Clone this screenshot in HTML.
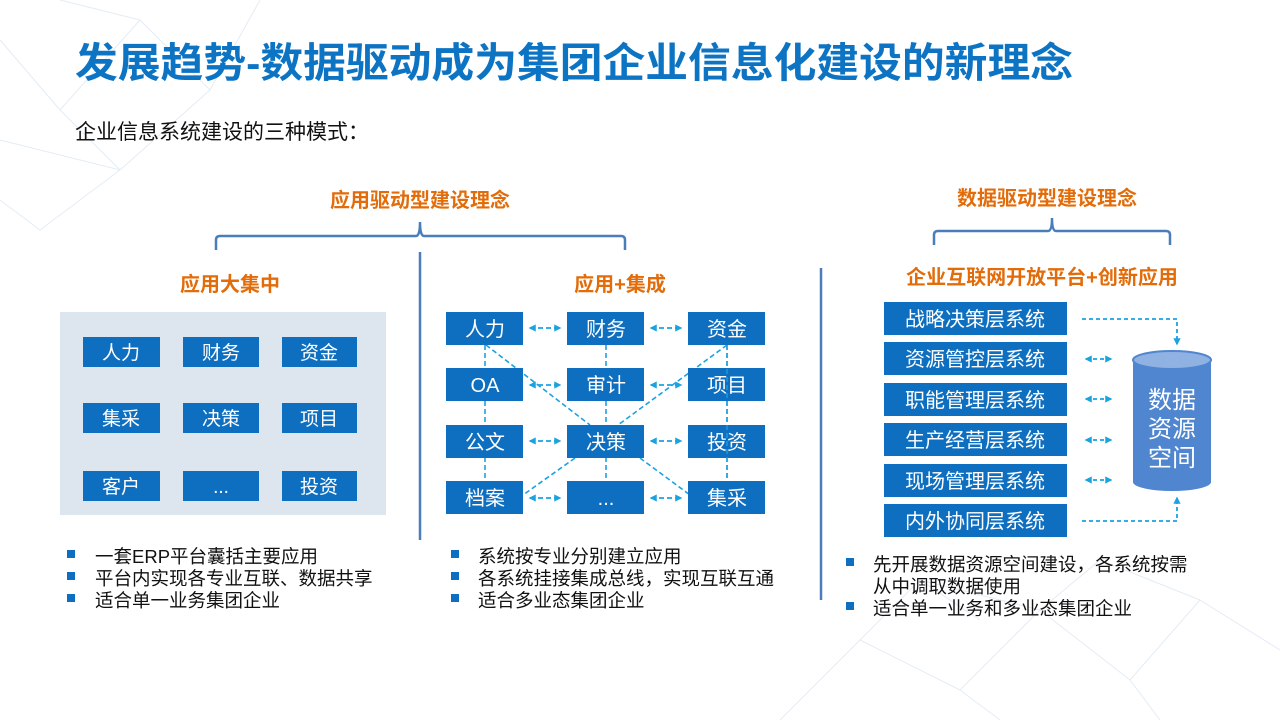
<!DOCTYPE html>
<html><head><meta charset="utf-8"><style>
html,body{margin:0;padding:0;background:#fff;}
svg{display:block;font-family:"Liberation Sans","Noto Sans CJK SC",sans-serif;}
</style></head><body>
<svg width="1280" height="720" viewBox="0 0 1280 720" xmlns="http://www.w3.org/2000/svg">
<defs>
<marker id="ah" viewBox="0 0 10 10" refX="8" refY="5" markerWidth="4" markerHeight="4" orient="auto-start-reverse"><path d="M0,0L10,5L0,10z" fill="#1aa3e0"/></marker>
</defs>
<g stroke="#e3ecf5" stroke-width="1" fill="none">
<path d="M0,40L60,110L140,20L210,90L120,170L0,140M60,110L120,170L40,230L0,200M140,20L60,0M210,90L260,0"/>
<path d="M780,720L860,640L960,690L1040,610L1130,680L1200,600L1280,650M860,640L920,580L1040,610L1100,560L1200,600M960,690L1000,720M1130,680L1160,720M920,580L980,620"/>
</g>
<text x="75" y="77" font-size="41" font-weight="bold" fill="#0d74c4" textLength="998" lengthAdjust="spacingAndGlyphs">发展趋势-数据驱动成为集团企业信息化建设的新理念</text>
<text x="75" y="139" font-size="21" fill="#111">企业信息系统建设的三种模式：</text>

<g font-weight="bold" fill="#e36c0a" font-size="20" text-anchor="middle">
<text x="420" y="207">应用驱动型建设理念</text>
<text x="1047" y="205">数据驱动型建设理念</text>
<text x="230" y="291">应用大集中</text>
<text x="620" y="291">应用+集成</text>
<text x="1042" y="284">企业互联网开放平台+创新应用</text>
</g>
<g stroke="#4a7ebb" stroke-width="2.5" fill="none">
<path d="M216,250V240Q216,236 220,236H416Q420,236 420,222Q420,236 424,236H621Q625,236 625,240V250"/>
<path d="M934,245V235Q934,231 938,231H1048Q1052,231 1052,218Q1052,231 1056,231H1166Q1170,231 1170,235V245"/>
<path d="M420,252V540M821,268V600"/>
</g>

<rect x="60" y="312" width="326" height="203" fill="#dde5ef"/>
<g fill="#0e6fc0">
<rect x="83" y="337" width="77" height="30"/><rect x="183" y="337" width="76" height="30"/><rect x="282" y="337" width="75" height="30"/>
<rect x="83" y="403" width="77" height="30"/><rect x="183" y="403" width="76" height="30"/><rect x="282" y="403" width="75" height="30"/>
<rect x="83" y="471" width="77" height="30"/><rect x="183" y="471" width="76" height="30"/><rect x="282" y="471" width="75" height="30"/>
</g>
<g fill="#fff" font-size="19" text-anchor="middle">
<text x="121" y="359">人力</text><text x="221" y="359">财务</text><text x="319" y="359">资金</text>
<text x="121" y="425">集采</text><text x="221" y="425">决策</text><text x="319" y="425">项目</text>
<text x="121" y="493">客户</text><text x="221" y="493">...</text><text x="319" y="493">投资</text>
</g>

<g stroke="#1aa3e0" stroke-width="1.6" stroke-dasharray="5,3" fill="none">
<line x1="485" y1="345" x2="485" y2="481"/>
<line x1="606" y1="345" x2="606" y2="481"/>
<line x1="727" y1="345" x2="727" y2="481"/>
<line x1="486" y1="345" x2="590" y2="425"/>
<line x1="727" y1="345" x2="618" y2="425"/>
<line x1="575" y1="458" x2="523" y2="495"/>
<line x1="640" y1="458" x2="690" y2="495"/>
</g>
<g stroke="#1aa3e0" stroke-width="1.8" stroke-dasharray="5,3" fill="none" marker-start="url(#ah)" marker-end="url(#ah)">
<line x1="530" y1="328" x2="560" y2="328"/><line x1="651" y1="328" x2="681" y2="328"/>
<line x1="530" y1="385" x2="560" y2="385"/><line x1="651" y1="385" x2="681" y2="385"/>
<line x1="530" y1="441" x2="560" y2="441"/><line x1="651" y1="441" x2="681" y2="441"/>
<line x1="530" y1="498" x2="560" y2="498"/><line x1="651" y1="498" x2="681" y2="498"/>
</g>
<g fill="#0e6fc0">
<rect x="446" y="312" width="77" height="33"/><rect x="567" y="312" width="77" height="33"/><rect x="688" y="312" width="77" height="33"/>
<rect x="446" y="368" width="77" height="33"/><rect x="567" y="368" width="77" height="33"/><rect x="688" y="368" width="77" height="33"/>
<rect x="446" y="425" width="77" height="33"/><rect x="567" y="425" width="77" height="33"/><rect x="688" y="425" width="77" height="33"/>
<rect x="446" y="481" width="77" height="33"/><rect x="567" y="481" width="77" height="33"/><rect x="688" y="481" width="77" height="33"/>
</g>
<g stroke="#1aa3e0" stroke-width="1.6" stroke-dasharray="5,3" fill="none">
<line x1="727" y1="345" x2="727" y2="481" opacity="0.8"/>
</g>
<g fill="#fff" font-size="20" text-anchor="middle">
<text x="485" y="336">人力</text><text x="606" y="336">财务</text><text x="727" y="336">资金</text>
<text x="485" y="392">OA</text><text x="606" y="392">审计</text><text x="727" y="392">项目</text>
<text x="485" y="449">公文</text><text x="606" y="449">决策</text><text x="727" y="449">投资</text>
<text x="485" y="505">档案</text><text x="606" y="505">...</text><text x="727" y="505">集采</text>
</g>

<g fill="#0e6fc0">
<rect x="884" y="302" width="183" height="33"/><rect x="884" y="342" width="183" height="33"/>
<rect x="884" y="383" width="183" height="33"/><rect x="884" y="423" width="183" height="33"/>
<rect x="884" y="464" width="183" height="33"/><rect x="884" y="504" width="183" height="33"/>
</g>
<g fill="#fff" font-size="20" text-anchor="middle">
<text x="975" y="326">战略决策层系统</text><text x="975" y="366">资源管控层系统</text>
<text x="975" y="407">职能管理层系统</text><text x="975" y="447">生产经营层系统</text>
<text x="975" y="488">现场管理层系统</text><text x="975" y="528">内外协同层系统</text>
</g>
<g stroke="#1aa3e0" stroke-width="1.8" stroke-dasharray="4,3" fill="none">
<path d="M1082,319H1177V344" marker-end="url(#ah)"/>
<path d="M1082,521H1177V498" marker-end="url(#ah)"/>
<g marker-start="url(#ah)" marker-end="url(#ah)">
<line x1="1086" y1="359" x2="1111" y2="359"/><line x1="1086" y1="399" x2="1111" y2="399"/>
<line x1="1086" y1="440" x2="1111" y2="440"/><line x1="1086" y1="480" x2="1111" y2="480"/>
</g>
</g>
<path d="M1133,360V482A39,9 0 0 0 1211,482V360Z" fill="#4f86cf"/>
<ellipse cx="1172" cy="360" rx="39" ry="9" fill="#8fb2e3" stroke="#4f86cf" stroke-width="2"/>
<g fill="#fff" font-size="24" text-anchor="middle">
<text x="1172" y="408">数据</text><text x="1172" y="437">资源</text><text x="1172" y="466">空间</text>
</g>

<g fill="#0e6fc0">
<rect x="67" y="550" width="8" height="8"/><rect x="67" y="572" width="8" height="8"/><rect x="67" y="594" width="8" height="8"/>
<rect x="451" y="550" width="8" height="8"/><rect x="451" y="572" width="8" height="8"/><rect x="451" y="594" width="8" height="8"/>
<rect x="846" y="558" width="8" height="8"/><rect x="846" y="602" width="8" height="8"/>
</g>
<g fill="#111" font-size="18.5">
<text x="95" y="563">一套ERP平台囊括主要应用</text>
<text x="95" y="585">平台内实现各专业互联、数据共享</text>
<text x="95" y="607">适合单一业务集团企业</text>
<text x="478" y="563">系统按专业分别建立应用</text>
<text x="478" y="585">各系统挂接集成总线，实现互联互通</text>
<text x="478" y="607">适合多业态集团企业</text>
<text x="873" y="571">先开展数据资源空间建设，各系统按需</text>
<text x="873" y="593">从中调取数据使用</text>
<text x="873" y="615">适合单一业务和多业态集团企业</text>
</g>
</svg>
</body></html>
